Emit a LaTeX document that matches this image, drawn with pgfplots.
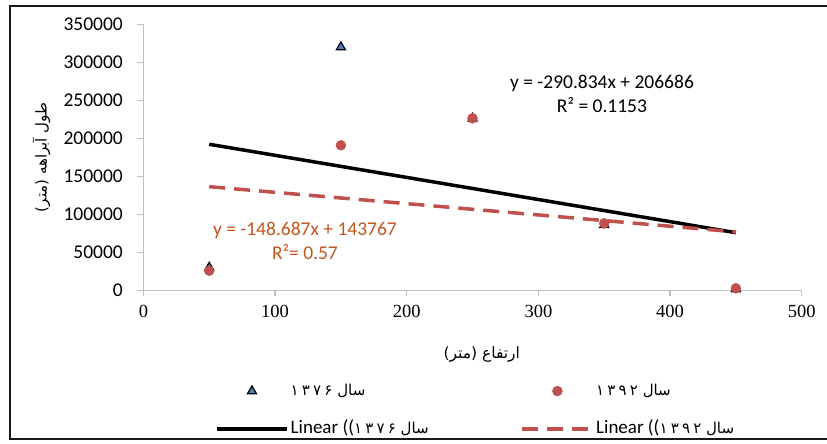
\documentclass[border=0pt]{standalone}
\usepackage{fontspec}
\setmainfont{Carlito}
\newfontfamily\serifnum{Liberation Serif}
\newfontfamily\arabicfont[Script=Arabic]{DejaVu Sans}
\usepackage{pgfplots}
\pgfplotsset{compat=1.18}
\TeXXeTstate=1
\definecolor{redc}{HTML}{C0504D}
\definecolor{bluec}{HTML}{4F81BD}
\definecolor{eqc}{HTML}{C0561E}
\definecolor{axgray}{HTML}{BFBFBF}
\newcommand{\yrA}{\beginL ۱\kern3.2pt ۳\kern3.2pt ۷\kern3.2pt ۶\endL}
\newcommand{\yrB}{\beginL ۱\kern3.2pt ۳\kern3.2pt ۹\kern3.2pt ۲\endL}
\newcommand{\ar}{\arabicfont\fontsize{15}{18}\selectfont}
\begin{document}
\begin{tikzpicture}[x=1pt,y=1pt]
\useasboundingbox (0,0) rectangle (827,444);
\draw[line width=2pt, black!90] (900,5) -- (10,5) -- (10,438) -- (900,438);
\begin{axis}[
  at={(143.4pt,153.7pt)}, anchor=south west, scale only axis,
  width=658.3pt, height=266pt,
  xmin=0, xmax=500, ymin=0, ymax=350000,
  axis x line*=bottom, axis y line*=left,
  axis line style={draw=axgray, line width=1.3pt, -},
  tick style={draw=axgray, line width=1.3pt},
  tick align=outside, major tick length=6pt,
  scaled y ticks=false, scaled x ticks=false,
  xtick={0,100,200,300,400,500},
  xticklabels={0,100,200,300,400,500},
  ytick={0,50000,100000,150000,200000,250000,300000,350000},
  yticklabels={0,50000,100000,150000,200000,250000,300000,350000},
  /pgf/number format/assume math mode=true,
  yticklabel style={font=\fontsize{19.5}{20}\selectfont, xshift=-11pt},
  xticklabel style={font=\serifnum\fontsize{18.5}{20}\selectfont, yshift=-5pt},
  xlabel={\arabicfont\beginR ارتفاع (متر)\endR},
  xlabel style={at={(axis description cs:0.514,-0.243)}, anchor=center, font=\fontsize{15.5}{17}\selectfont},
  ylabel={\arabicfont\beginR طول آبراهه (متر)\endR},
  ylabel style={at={(axis description cs:-0.155,0.5)}, anchor=center, font=\fontsize{15}{17}\selectfont},
  legend columns=2, legend cell align=left,
  legend style={at={(axis description cs:0.1088,-0.3481)}, anchor=north west, draw=none, fill=none,
    inner sep=0pt, row sep=22pt, font=\fontsize{19}{20}\selectfont,
    nodes={inner xsep=2pt, inner ysep=0pt, text height=12pt, text depth=4pt},
    /tikz/every even column/.append style={column sep=90pt}},
  legend image code/.code={\draw[mark repeat=2,mark phase=2,#1] plot coordinates {(0pt,0pt) (35pt,0pt) (70pt,0pt)};},
]
\addplot[only marks, mark=triangle*, mark size=5.2pt, mark options={fill=bluec, draw=black, line width=1.2pt}]
  coordinates {(50,30000) (150,320000) (250,226000) (350,86000) (450,1500)};
\addlegendentry{\ar\beginR سال \yrA\endR}
\addplot[only marks, mark=*, mark size=5pt, color=redc]
  coordinates {(50,25800) (150,190800) (250,226300) (350,88150) (450,2600)};
\addlegendentry{\ar\beginR سال \yrB\endR}
\addplot[black, line width=3.5pt] coordinates {(50,192144.3) (450,75810.7)};
\addlegendentry{Linear ((\ar\beginR سال \yrA\endR}
\addplot[redc, line width=3.5pt, dash pattern=on 16pt off 9pt] coordinates {(50,136332.6) (450,76857.9)};
\addlegendentry{Linear ((\ar\beginR سال \yrB\endR}
\node[align=center, font=\fontsize{19.5}{24}\selectfont] at (axis cs:348.3,258950) {y = -290.834x + 206686\\R² = 0.1153};
\node[align=center, font=\fontsize{19.5}{24}\selectfont, text=eqc] at (axis cs:122.7,65530) {y = -148.687x + 143767\\R²= 0.57};
\end{axis}
\end{tikzpicture}
\end{document}
